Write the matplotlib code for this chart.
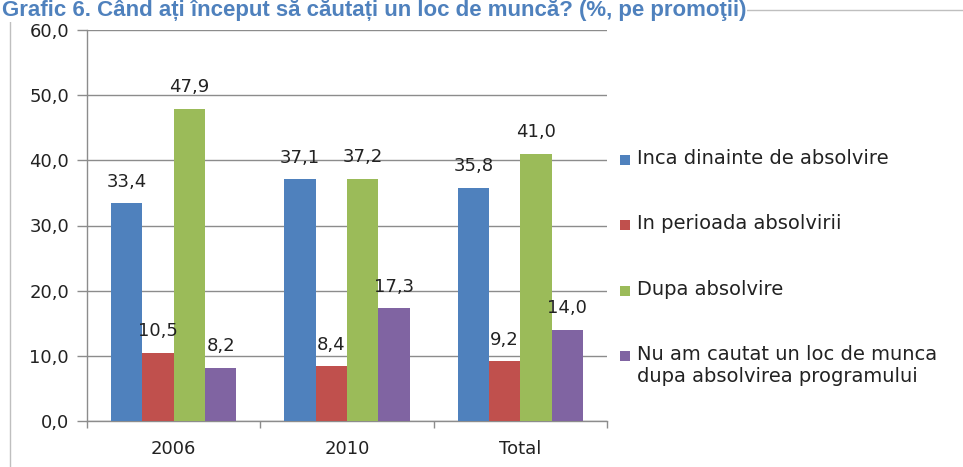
import numpy as np
import matplotlib
matplotlib.use("Agg")
import matplotlib.pyplot as plt
from matplotlib.patches import Rectangle

# ---- data ----
categories = ["2006", "2010", "Total"]
series_names = [
    "Inca dinainte de absolvire",
    "In perioada absolvirii",
    "Dupa absolvire",
    "Nu am cautat un loc de munca\ndupa absolvirea programului",
]
inca_dinainte = [33.4, 37.1, 35.8]
in_perioada = [10.5, 8.4, 9.2]
dupa_absolvire = [47.9, 37.2, 41.0]
nu_am_cautat = [8.2, 17.3, 14.0]
y_ticks = [0, 10, 20, 30, 40, 50, 60]
title = "Grafic 6. Când ați început să căutați un loc de muncă? (%, pe promoţii)"

series_values = [inca_dinainte, in_perioada, dupa_absolvire, nu_am_cautat]
colors = ["#4F81BD", "#C0504D", "#9BBB59", "#8064A2"]

W, H = 963, 467
FONT = "DejaVu Sans"
TXT = "#222222"
fig = plt.figure(figsize=(W / 100, H / 100), dpi=100)
fig.patch.set_facecolor("white")

# outer chart frame
fig.add_artist(Rectangle((10 / W, -0.01), 1.0, 1 - 10 / H + 0.01,
                         transform=fig.transFigure, fill=False,
                         edgecolor="#bfbfbf", lw=1, zorder=0))

ax = fig.add_axes([87 / W, 1 - 421 / H, (607 - 87) / W, (421 - 30) / H])

x = np.arange(len(categories))
bw = 0.181
for i, (vals, col) in enumerate(zip(series_values, colors)):
    xs = x + (i - 1.5) * bw
    ax.bar(xs, vals, width=bw, color=col, zorder=3)
    for xi, v in zip(xs, vals):
        ax.annotate(f"{v:.1f}".replace(".", ","), xy=(xi, v),
                    xytext=(0, 15.5), textcoords="offset points",
                    ha="center", va="center", fontsize=13, family=FONT,
                    color=TXT, zorder=4)

ax.set_xlim(-0.5, len(categories) - 0.5)
ax.set_ylim(0, 60)
ax.set_yticks(y_ticks)
ax.set_yticklabels([f"{t:.1f}".replace(".", ",") for t in y_ticks],
                   fontsize=13, family=FONT, color=TXT)
ax.yaxis.grid(True, color="#8c8c8c", lw=1, zorder=0)
ax.set_axisbelow(True)

ax.set_xticks(x)
ax.set_xticklabels(categories, fontsize=13, family=FONT, color=TXT)
ax.set_xticks(np.arange(-0.5, len(categories), 1.0), minor=True)
ax.tick_params(axis="x", which="major", length=0, pad=14)
ax.tick_params(axis="x", which="minor", length=5, direction="out",
               color="#8c8c8c", width=1)
ax.tick_params(axis="y", length=7, direction="out", color="#8c8c8c",
               width=1, pad=6)

for s in ["top", "right"]:
    ax.spines[s].set_visible(False)
for s in ["left", "bottom"]:
    ax.spines[s].set_color("#8c8c8c")
    ax.spines[s].set_linewidth(1)

# legend (drawn manually so the marker aligns with the first text line)
y0 = 160
step = 65.3
for i, (name, col) in enumerate(zip(series_names, colors)):
    yc = y0 + i * step
    fig.add_artist(Rectangle((620 / W, 1 - (yc + 5) / H), 10 / W, 10 / H,
                             transform=fig.transFigure, facecolor=col,
                             edgecolor="none"))
    fig.text(637 / W, 1 - (yc - 11) / H, name, ha="left", va="top",
             fontsize=14, family=FONT, color=TXT, linespacing=1.2)

# title
fig.text(2 / W, 1 - 16 / H, title, ha="left", va="baseline",
         fontsize=16, fontweight="bold", family="Liberation Sans",
         color="#4F81BD", zorder=5,
         bbox=dict(facecolor="white", edgecolor="none", pad=0.5))

fig.savefig("out.png", dpi=100)
